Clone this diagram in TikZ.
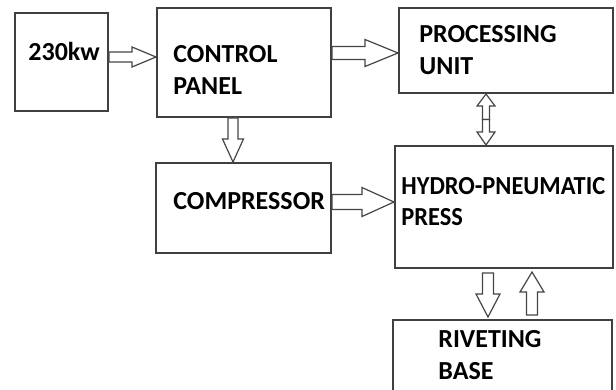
\documentclass[tikz,border=0pt]{standalone}
\usepackage{fontspec}
\setmainfont{Carlito}
\usetikzlibrary{calc}
\definecolor{boxgray}{RGB}{64,64,64}
\definecolor{arrgray}{RGB}{70,70,70}
\tikzset{
  %% ---- boxes ----
  unit/.style = {rectangle, draw=boxgray, line width=1pt,
                 fill=white, inner sep=0pt},
  tag/.style  = {inner sep=0pt, anchor=base west, align=left,
                 font=\fontsize{13}{16}\selectfont\bfseries},
  %% ---- hollow block arrows ----
  shaftw/.store in=\shaftw, shaftw=2.5pt,
  headw/.store in=\headw,   headw=5pt,
  headl/.store in=\headl,   headl=12pt,
  blockarr/.style = {draw=arrgray, fill=white, line width=0.6pt,
    to path={($(\tikztostart)!\shaftw!90:(\tikztotarget)$)
      -- ($(\tikztotarget)!\headl!(\tikztostart)!\shaftw!-90:(\tikztostart)$)
      -- ($(\tikztotarget)!\headl!(\tikztostart)!\headw!-90:(\tikztostart)$)
      -- (\tikztotarget)
      -- ($(\tikztotarget)!\headl!(\tikztostart)!\headw!90:(\tikztostart)$)
      -- ($(\tikztotarget)!\headl!(\tikztostart)!\shaftw!90:(\tikztostart)$)
      -- ($(\tikztostart)!\shaftw!-90:(\tikztotarget)$)
      -- cycle}},
}
\begin{document}
\begin{tikzpicture}[x=0.5pt, y=-0.5pt]
\clip (0,0) rectangle (616,390);
\fill[white] (0,0) rectangle (616,390);

\node[unit, minimum width=46.5pt, minimum height=49pt]  (pwr)   at (61.5,62)   {};
\node[unit, minimum width=87pt,   minimum height=54.5pt] (ctrl) at (244,62.5)  {};
\node[unit, minimum width=107pt,  minimum height=42.5pt] (proc) at (506,50.5)  {};
\node[unit, minimum width=87.5pt, minimum height=45pt]  (comp)  at (243.5,208) {};
\node[unit, minimum width=109pt,  minimum height=61pt]  (press) at (504,207)   {};
\node[unit, minimum width=109.5pt,minimum height=40pt]  (rivet) at (502.5,360) {};

% base anchor = last line
\node[tag] (pwrtxt)   at (28,61)   {230kw};
\node[tag] (ctrltxt)  at (173,95)  {CONTROL\\PANEL};
\node[tag] (proctxt)  at (419,75)  {PROCESSING\\UNIT};
\node[tag] (comptxt)  at (173,209) {COMPRESSOR};
\node[tag, xscale=0.94, transform shape] (presstxt) at (401,226) {HYDRO-PNEUMATIC\\PRESS};
\node[tag] (rivettxt) at (438,379) {RIVETING\\BASE};

% arrow end points
\coordinate (pwrout)   at ([yshift=2.5pt]pwr.east);
\coordinate (ctrlin)   at (pwrout -| ctrl.west);
\coordinate (ctrlout)  at ([yshift=4.75pt]ctrl.east);
\coordinate (procin)   at (ctrlout -| proc.west);
\coordinate (ctrldn)   at ([xshift=-5.5pt]ctrl.south);
\coordinate (compin)   at (ctrldn |- comp.north);
\coordinate (compout)  at ([yshift=3pt]comp.east);
\coordinate (pressin)  at (compout -| press.west);
\coordinate (procdn)   at ([xshift=-10pt]proc.south);
\coordinate (pressup)  at (procdn |- press.north);
\coordinate (link)     at ($(procdn)!0.5!(pressup)$);
\coordinate (pressout) at ([xshift=-8pt, yshift=-2pt]press.south);
\coordinate (rivetin)  at ([yshift=1pt]pressout |- rivet.north);
\coordinate (rivetout) at ([xshift=14.75pt, yshift=2pt]rivet.north);
\coordinate (pressret) at ([yshift=-1.5pt]rivetout |- press.south);

\draw[blockarr] (pwrout) to (ctrlin);
\draw[blockarr, shaftw=3.25pt, headw=6.75pt, headl=16.5pt] (ctrlout) to (procin);
\draw[blockarr, headw=5.25pt, headl=11.5pt] (ctrldn) to (compin);
\draw[blockarr, shaftw=3.75pt, headw=7.25pt, headl=16pt] (compout) to (pressin);
\draw[blockarr, shaftw=1.75pt, headw=4.5pt, headl=6pt] (link) to (procdn);
\draw[blockarr, shaftw=1.75pt, headw=4.5pt, headl=6.5pt] (link) to (pressup);
\draw[blockarr, shaftw=2.75pt, headw=6pt, headl=11.5pt] (pressout) to (rivetin);
\draw[blockarr, shaftw=2.75pt, headw=6pt, headl=10pt] (rivetout) to (pressret);
\end{tikzpicture}
\end{document}
